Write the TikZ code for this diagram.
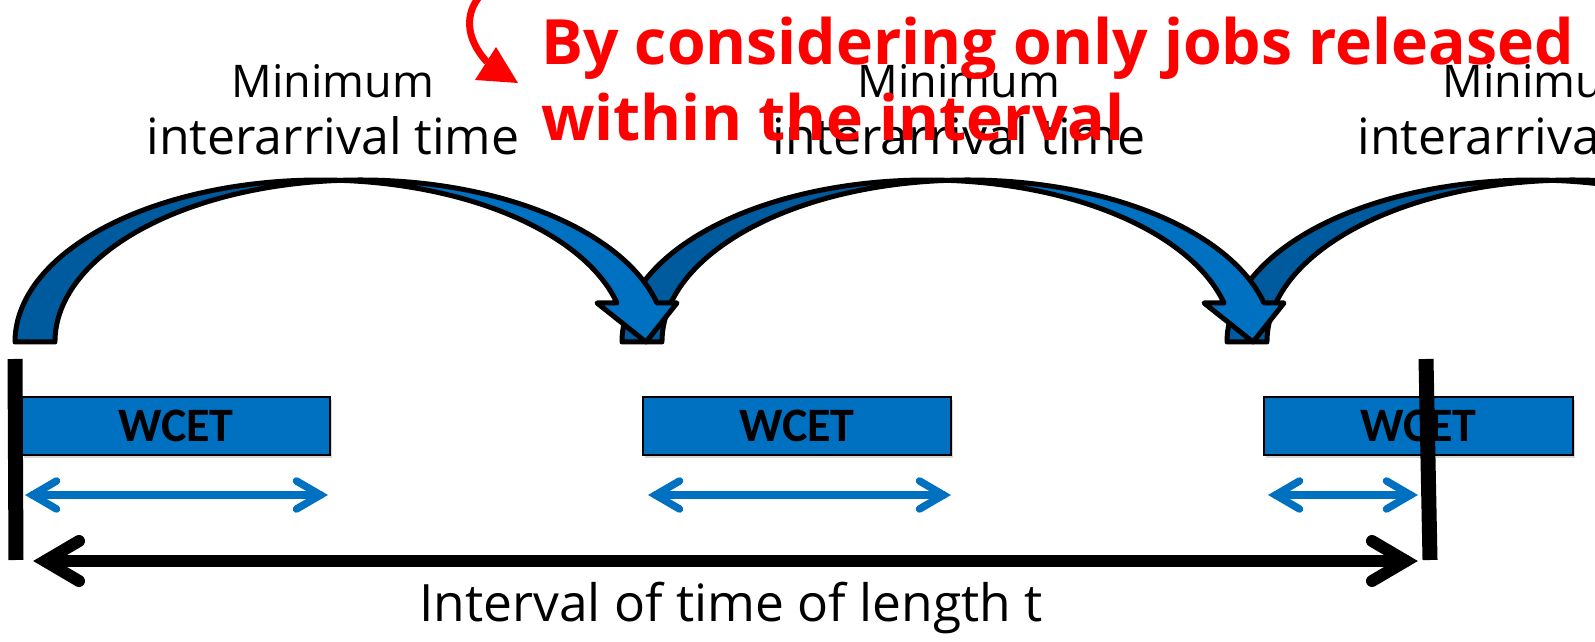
\documentclass[tikz,border=0pt]{standalone}
\usepackage{fontspec}
\setmainfont{Open Sans}
\newfontfamily\calibfont{Carlito}
\usetikzlibrary{shadows}
\definecolor{wblue}{HTML}{0070C0}
\definecolor{arcdk}{RGB}{0,90,158}
\definecolor{redink}{HTML}{FF0000}

% PowerPoint-like curved down arrow, shifted by #1
\newcommand\crvarrow[1]{%
\begin{scope}[xshift=#1]
\filldraw[arcback] (15,300) arc[start angle=180,end angle=86.25,x radius=305.5,y radius=162]
   arc[start angle=93.75,end angle=180,x radius=305.5,y radius=162] -- cycle;
\filldraw[arcfront] (340.5,461.65) arc[start angle=93.75,end angle=13.93,x radius=305.5,y radius=162]
   -- (677,339) -- (646,300) -- (597,339) -- (617,339)
   arc[start angle=13.93,end angle=86.25,x radius=305.5,y radius=162] -- cycle;
\end{scope}}

% double headed chevron arrow: style, left tip x, right tip x, y, ext, L, W
\newcommand\twohead[7]{%
\coordinate (hl) at ({#2+#5},#4);
\coordinate (hr) at ({#3-#5},#4);
\draw[#1] (hl) -- (hr);
\draw[#1] ([shift={(#6,#7)}]hl) -- (hl) -- ([shift={(#6,-#7)}]hl);
\draw[#1] ([shift={(-#6,#7)}]hr) -- (hr) -- ([shift={(-#6,-#7)}]hr);}

\begin{document}
\begin{tikzpicture}[x=1pt,y=1pt,
  lbl/.style={font=\fontsize{50}{54}\selectfont, inner sep=0pt, anchor=base},
  lblm/.style={font=\fontsize{45}{50}\selectfont, inner sep=0pt, anchor=base},
  lblb/.style={font=\fontsize{51.5}{56}\selectfont, inner sep=0pt, anchor=base},
  redline/.style={font=\fontsize{62.5}{70}\selectfont\bfseries, text=redink, inner sep=0pt, anchor=base west},
  wcetbox/.style={draw=black, line width=1.3pt, fill=wblue, minimum width=308pt, minimum height=58pt,
     inner sep=0pt, font=\calibfont\bfseries\fontsize{48}{52}\selectfont,
     drop shadow={shadow xshift=2pt, shadow yshift=-3pt, opacity=0.3}},
  arcback/.style={fill=arcdk, draw=black, line width=5pt, line join=round},
  arcfront/.style={fill=wblue, draw=black, line width=5pt, line join=round},
  bluedbl/.style={draw=wblue, line width=7.5pt, line cap=round, line join=miter},
  blackdbl/.style={draw=black, line width=12pt, line cap=round, line join=miter},
  barline/.style={draw=black, line width=15pt},
  redarrow/.style={draw=redink, line width=7pt}]
\useasboundingbox (0,0) rectangle (1595,642);
\fill[white] (0,0) rectangle (1595,642);
\clip (0,0) rectangle (1595,642);

% labels
\node[lblm] (m1) at (333,544) {Minimum};
\node[lbl] (i1) at (333,487) {interarrival time};
\node[lblm] (m2) at (959,544) {Minimum};
\node[lbl] (i2) at (959,487) {interarrival time};
\node[lblm] (m3) at (1544,544) {Minimum};
\node[lbl] (i3) at (1544,487) {interarrival time};

% curved arrows
\crvarrow{1212pt}
\crvarrow{607pt}
\crvarrow{0pt}

% WCET boxes
\node[wcetbox] (w1) at (176,216) {WCET};
\node[wcetbox] (w2) at (797,216) {WCET};
\node[wcetbox, minimum width=309pt] (w3) at (1418.5,216) {WCET};

% WCET extents
\twohead{bluedbl}{25}{328}{147}{7.5}{24}{14}
\twohead{bluedbl}{648}{951}{147}{7.5}{24}{14}
\twohead{bluedbl}{1268}{1418}{147}{7.5}{24}{14}

% interval
\twohead{blackdbl}{33}{1418}{81}{12}{34}{20}
\coordinate (lt) at (15,283);
\coordinate (lb) at (16,82);
\coordinate (rt) at (1426,283);
\coordinate (rb) at (1430,82);
\draw[barline] (lt) -- (lb);
\draw[barline] (rt) -- (rb);
\node[lblb] (iv) at (731,20) {Interval of time of length t};

% red annotation
\node[redline] (r1) at (541,577) {By considering only jobs released};
\node[redline] (r2) at (541,501) {within the interval};
\coordinate (ra) at (480,646);
\coordinate (rz) at (487,580);
\draw[redarrow] (ra) .. controls (466,630) and (464,605) .. (rz);
\fill[redink] (475,562) -- (496,595) -- (518,559) -- cycle;
\end{tikzpicture}
\end{document}
